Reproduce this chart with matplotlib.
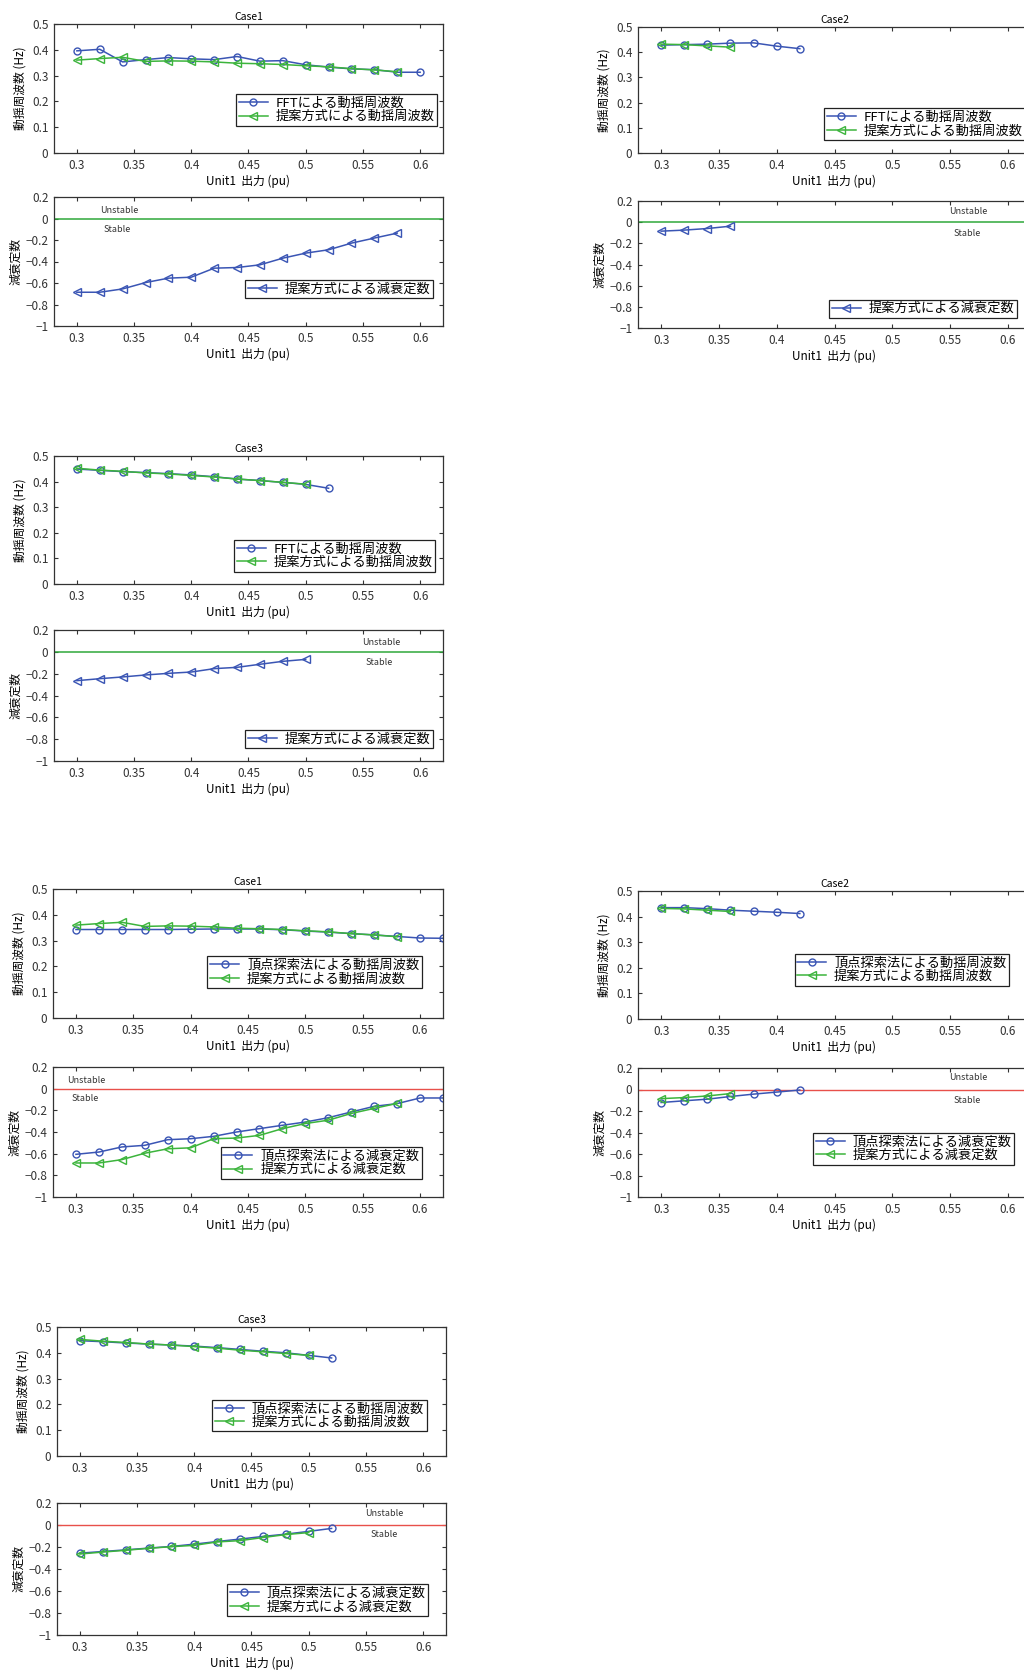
import matplotlib
matplotlib.use("Agg")
import matplotlib.pyplot as plt

plt.rcParams['font.family'] = ['Noto Sans CJK JP', 'DejaVu Sans']
plt.rcParams['axes.unicode_minus'] = True

W, H = 1024, 1672

# ---- data -------------------------------------------------------------
x_c1 = [0.30, 0.32, 0.34, 0.36, 0.38, 0.40, 0.42, 0.44, 0.46, 0.48, 0.50, 0.52, 0.54, 0.56, 0.58, 0.60]
x_c1_prop = x_c1[:15]
x_c1_peak = x_c1 + [0.62]
x_c2 = [0.30, 0.32, 0.34, 0.36, 0.38, 0.40, 0.42]
x_c2_prop = x_c2[:4]
x_c3 = [0.30, 0.32, 0.34, 0.36, 0.38, 0.40, 0.42, 0.44, 0.46, 0.48, 0.50, 0.52]
x_c3_prop = x_c3[:11]

# FFT-based frequency (Hz)
fft_freq_c1 = [0.396, 0.402, 0.353, 0.362, 0.370, 0.365, 0.362, 0.374, 0.356, 0.358, 0.342, 0.333, 0.326, 0.323, 0.313, 0.313]
fft_freq_c2 = [0.428, 0.430, 0.432, 0.436, 0.437, 0.424, 0.414]
fft_freq_c3 = [0.449, 0.444, 0.439, 0.435, 0.431, 0.426, 0.419, 0.410, 0.404, 0.397, 0.389, 0.374]

# proposed method frequency (Hz)
prop_freq_c1 = [0.360, 0.366, 0.371, 0.355, 0.357, 0.356, 0.353, 0.348, 0.346, 0.343, 0.338, 0.334, 0.327, 0.322, 0.315]
prop_freq_c2 = [0.432, 0.430, 0.425, 0.420]
prop_freq_c3 = [0.452, 0.445, 0.440, 0.434, 0.430, 0.424, 0.418, 0.410, 0.404, 0.397, 0.390]

# proposed method damping
prop_damp_c1 = [-0.686, -0.686, -0.655, -0.596, -0.555, -0.546, -0.462, -0.456, -0.431, -0.369, -0.322, -0.291, -0.229, -0.182, -0.136]
prop_damp_c2 = [-0.085, -0.075, -0.060, -0.038]
prop_damp_c3 = [-0.264, -0.246, -0.230, -0.212, -0.197, -0.185, -0.154, -0.142, -0.114, -0.087, -0.069]

# peak-search frequency (Hz)
peak_freq_c1 = [0.343, 0.343, 0.343, 0.343, 0.343, 0.344, 0.345, 0.345, 0.345, 0.342, 0.337, 0.333, 0.327, 0.322, 0.316, 0.310, 0.309]
peak_freq_c2 = [0.435, 0.435, 0.431, 0.425, 0.421, 0.417, 0.412]
peak_freq_c3 = [0.447, 0.443, 0.438, 0.434, 0.430, 0.426, 0.420, 0.413, 0.406, 0.400, 0.390, 0.380]

# peak-search damping
peak_damp_c1 = [-0.606, -0.585, -0.538, -0.523, -0.471, -0.462, -0.440, -0.400, -0.369, -0.338, -0.308, -0.268, -0.215, -0.163, -0.138, -0.086, -0.086]
peak_damp_c2 = [-0.121, -0.105, -0.090, -0.065, -0.043, -0.024, -0.005]
peak_damp_c3 = [-0.256, -0.241, -0.226, -0.210, -0.195, -0.174, -0.150, -0.128, -0.104, -0.083, -0.058, -0.031]

x_ticks = [0.3, 0.35, 0.4, 0.45, 0.5, 0.55, 0.6]
x_ticklabels = ['0.3', '0.35', '0.4', '0.45', '0.5', '0.55', '0.6']
f_ticks = [0, 0.1, 0.2, 0.3, 0.4, 0.5]
f_ticklabels = ['0', '0.1', '0.2', '0.3', '0.4', '0.5']
d_ticks = [-1, -0.8, -0.6, -0.4, -0.2, 0, 0.2]
d_ticklabels = ['\u22121', '\u22120.8', '\u22120.6', '\u22120.4', '\u22120.2', '0', '0.2']

xlabel = 'Unit1  出力 (pu)'
ylabel_f = '動揺周波数 (Hz)'
ylabel_d = '減衰定数'

lbl_fft_f = 'FFTによる動揺周波数'
lbl_prop_f = '提案方式による動揺周波数'
lbl_prop_d = '提案方式による減衰定数'
lbl_peak_f = '頂点探索法による動揺周波数'
lbl_peak_d = '頂点探索法による減衰定数'

BLUE = '#3a55b4'
GREEN = '#3cb43c'
RED = '#e8504a'
LINEGREEN = '#2fa83a'

fig = plt.figure(figsize=(W / 100, H / 100), dpi=100)


def make_ax(l, t, r, b):
    return fig.add_axes([l / W, 1 - b / H, (r - l) / W, (b - t) / H])


def style(ax, kind):
    ax.set_xlim(0.28, 0.62)
    ax.set_xticks(x_ticks)
    ax.set_xticklabels(x_ticklabels)
    if kind == 'f':
        ax.set_ylim(0, 0.5)
        ax.set_yticks(f_ticks)
        ax.set_yticklabels(f_ticklabels)
        ax.set_ylabel(ylabel_f, fontsize=8.5, labelpad=4)
    else:
        ax.set_ylim(-1, 0.2)
        ax.set_yticks(d_ticks)
        ax.set_yticklabels(d_ticklabels)
        ax.set_ylabel(ylabel_d, fontsize=8.5, labelpad=2)
    ax.set_xlabel(xlabel, fontsize=8.5, labelpad=2)
    ax.tick_params(direction='in', top=True, right=True, labelsize=8.5, length=3,
                   width=0.8, colors='#333333', pad=4)
    for s in ax.spines.values():
        s.set_color('#333333')
        s.set_linewidth(0.9)


def legend(ax, right, bottom):
    lg = ax.legend(loc='lower right', bbox_to_anchor=(right, bottom), fontsize=9.5,
                   fancybox=False, framealpha=1, edgecolor='#222222',
                   handlelength=2.2, borderpad=0.2, labelspacing=0.05,
                   handletextpad=0.6, borderaxespad=0)
    lg.get_frame().set_linewidth(0.9)


def stab_text(ax, x_u, y_u, x_s, y_s):
    ax.text(x_u, y_u, 'Unstable', fontsize=6.5, color='#333333', va='center', ha='left')
    ax.text(x_s, y_s, 'Stable', fontsize=6.5, color='#333333', va='center', ha='left')


circ = dict(marker='o', mfc='none', ms=5, mew=1.0, lw=1.1)
tri = dict(marker='<', mfc='none', ms=6, mew=1.0, lw=1.1)

# ---- FFT vs proposed ---------------------------------------------------
ax = make_ax(54, 24, 443, 153)
ax.plot(x_c1, fft_freq_c1, color=BLUE, label=lbl_fft_f, **circ)
ax.plot(x_c1_prop, prop_freq_c1, color=GREEN, label=lbl_prop_f, **tri)
style(ax, 'f'); ax.set_title('Case1', fontsize=7.5, pad=3)
legend(ax, 0.985, 0.21)

ax = make_ax(54, 197, 443, 326)
ax.axhline(0, color=LINEGREEN, lw=1.1)
ax.plot(x_c1_prop, prop_damp_c1, color=BLUE, label=lbl_prop_d, **tri)
style(ax, 'd')
legend(ax, 0.974, 0.217)
stab_text(ax, 0.32, 0.075, 0.323, -0.105)

ax = make_ax(638, 27, 1031, 153)
ax.plot(x_c2, fft_freq_c2, color=BLUE, label=lbl_fft_f, **circ)
ax.plot(x_c2_prop, prop_freq_c2, color=GREEN, label=lbl_prop_f, **tri)
style(ax, 'f'); ax.set_title('Case2', fontsize=7.5, pad=3)
legend(ax, 0.985, 0.10)

ax = make_ax(638, 201, 1031, 328)
ax.axhline(0, color=LINEGREEN, lw=1.1)
ax.plot(x_c2_prop, prop_damp_c2, color=BLUE, label=lbl_prop_d, **tri)
style(ax, 'd')
legend(ax, 0.964, 0.08)
stab_text(ax, 0.549, 0.105, 0.553, -0.108)

ax = make_ax(54, 456, 443, 584)
ax.plot(x_c3, fft_freq_c3, color=BLUE, label=lbl_fft_f, **circ)
ax.plot(x_c3_prop, prop_freq_c3, color=GREEN, label=lbl_prop_f, **tri)
style(ax, 'f'); ax.set_title('Case3', fontsize=7.5, pad=3)
legend(ax, 0.98, 0.096)

ax = make_ax(54, 630, 443, 761)
ax.axhline(0, color=LINEGREEN, lw=1.1)
ax.plot(x_c3_prop, prop_damp_c3, color=BLUE, label=lbl_prop_d, **tri)
style(ax, 'd')
legend(ax, 0.974, 0.10)
stab_text(ax, 0.549, 0.09, 0.552, -0.096)

# ---- peak search vs proposed -------------------------------------------
ax = make_ax(53, 889, 443, 1018)
ax.plot(x_c1_peak, peak_freq_c1, color=BLUE, label=lbl_peak_f, **circ)
ax.plot(x_c1_prop, prop_freq_c1, color=GREEN, label=lbl_prop_f, **tri)
style(ax, 'f'); ax.set_title('Case1', fontsize=7.5, pad=3)
legend(ax, 0.946, 0.23)

ax = make_ax(53, 1067, 443, 1197)
ax.axhline(0, color=RED, lw=1.0)
ax.plot(x_c1_peak, peak_damp_c1, color=BLUE, label=lbl_peak_d, **circ)
ax.plot(x_c1_prop, prop_damp_c1, color=GREEN, label=lbl_prop_d, **tri)
style(ax, 'd')
legend(ax, 0.946, 0.14)
stab_text(ax, 0.292, 0.073, 0.296, -0.095)

ax = make_ax(638, 891, 1031, 1019)
ax.plot(x_c2, peak_freq_c2, color=BLUE, label=lbl_peak_f, **circ)
ax.plot(x_c2_prop, prop_freq_c2, color=GREEN, label=lbl_prop_f, **tri)
style(ax, 'f'); ax.set_title('Case2', fontsize=7.5, pad=3)
legend(ax, 0.944, 0.26)

ax = make_ax(638, 1068, 1031, 1197)
ax.axhline(0, color=RED, lw=1.0)
ax.plot(x_c2, peak_damp_c2, color=BLUE, label=lbl_peak_d, **circ)
ax.plot(x_c2_prop, prop_damp_c2, color=GREEN, label=lbl_prop_d, **tri)
style(ax, 'd')
legend(ax, 0.957, 0.25)
stab_text(ax, 0.549, 0.107, 0.553, -0.098)

ax = make_ax(57, 1327, 446, 1456)
ax.plot(x_c3, peak_freq_c3, color=BLUE, label=lbl_peak_f, **circ)
ax.plot(x_c3_prop, prop_freq_c3, color=GREEN, label=lbl_prop_f, **tri)
style(ax, 'f'); ax.set_title('Case3', fontsize=7.5, pad=3)
legend(ax, 0.95, 0.19)

ax = make_ax(57, 1503, 446, 1635)
ax.axhline(0, color=RED, lw=1.0)
ax.plot(x_c3, peak_damp_c3, color=BLUE, label=lbl_peak_d, **circ)
ax.plot(x_c3_prop, prop_damp_c3, color=GREEN, label=lbl_prop_d, **tri)
style(ax, 'd')
legend(ax, 0.954, 0.144)
stab_text(ax, 0.549, 0.10, 0.554, -0.082)

fig.savefig('out.png', dpi=100)
